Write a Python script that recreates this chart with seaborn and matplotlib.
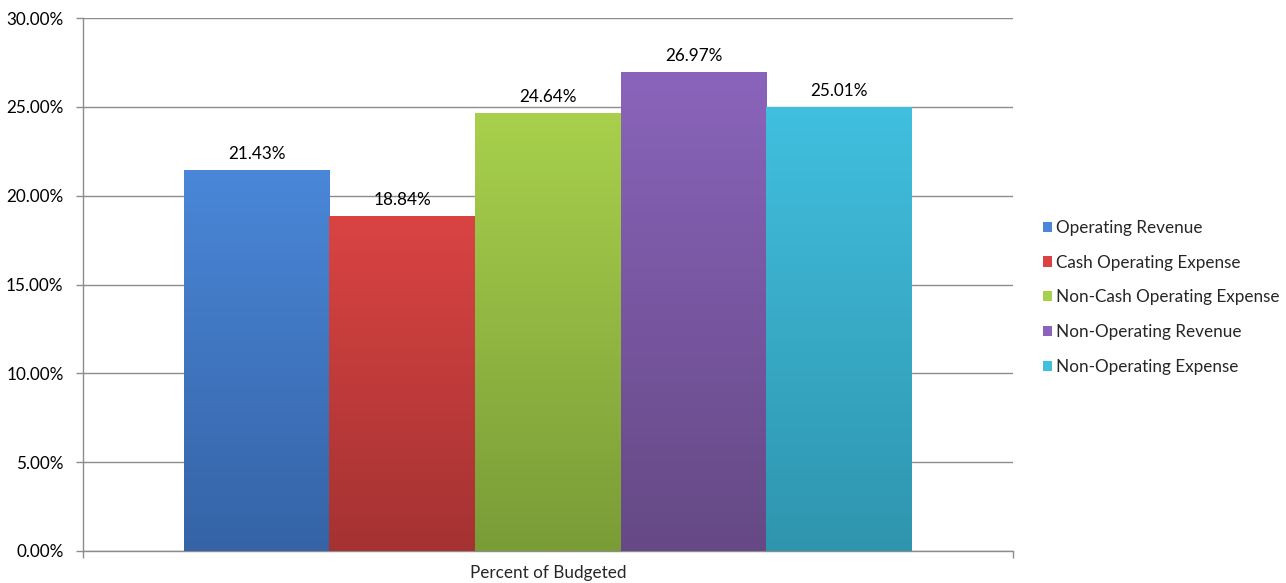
import numpy as np
import pandas as pd
import matplotlib
matplotlib.use("Agg")
import matplotlib.pyplot as plt
import seaborn as sns
from matplotlib.colors import LinearSegmentedColormap
from matplotlib.ticker import FuncFormatter

categories = ["Operating Revenue", "Cash Operating Expense", "Non-Cash Operating Expense",
              "Non-Operating Revenue", "Non-Operating Expense"]
values = [21.43, 18.84, 24.64, 26.97, 25.01]
group = "Percent of Budgeted"
top_colors = ["#4a87d8", "#d94443", "#a8d04c", "#8a64bb", "#41bfdf"]
bottom_colors = ["#3563a6", "#a53232", "#7a9c37", "#654985", "#2f95ae"]

FS = 12.3

sns.set_theme(style="white")
plt.rcParams['font.family'] = ['Lato', 'DejaVu Sans']

df = pd.DataFrame({"group": [group] * len(values), "cat": categories, "val": values})

fig = plt.figure(figsize=(12.86, 5.83), dpi=100)
ax = fig.add_axes([0.0645, 0.0549, 0.7232, 0.9141])

sns.barplot(data=df, x="group", y="val", hue="cat", hue_order=categories,
            palette=top_colors, width=0.783, gap=0, ax=ax, legend=True,
            linewidth=0, saturation=1, zorder=3)

ax.set_ylim(0, 30)
ax.set_xlim(-0.5, 0.5)
ax.set_yticks(np.arange(0, 30.01, 5))
ax.yaxis.set_major_formatter(FuncFormatter(lambda v, p: f"{v:.2f}%"))
ax.grid(axis="y", color="#8c8c8c", linewidth=1, zorder=0)
ax.set_axisbelow(True)

for s in ["top", "right"]:
    ax.spines[s].set_visible(False)
for s in ["left", "bottom"]:
    ax.spines[s].set_color("#8c8c8c")
    ax.spines[s].set_linewidth(1)

ax.tick_params(axis="y", which="major", direction="out", length=5, color="#8c8c8c",
               width=1, left=True, labelsize=FS, labelcolor="black", pad=9)
ax.set_xticks([0])
ax.set_xticklabels([group])
ax.set_xticks([-0.5, 0.5], minor=True)
ax.tick_params(axis="x", which="major", length=0, labelsize=FS, pad=10)
ax.tick_params(axis="x", which="minor", direction="out", length=5, color="#8c8c8c", width=1, bottom=True)
ax.set_xlabel("")
ax.set_ylabel("")

# gradient fill clipped to bars
patches = []
for cont in ax.containers:
    patches.extend(cont.patches)
for i, p in enumerate(patches):
    x0, y0 = p.get_x(), p.get_y()
    w, h = p.get_width(), p.get_height()
    cmap = LinearSegmentedColormap.from_list(f"g{i}", [bottom_colors[i], top_colors[i]])
    grad = np.linspace(0, 1, 256).reshape(-1, 1)
    im = ax.imshow(grad, cmap=cmap, origin="lower", aspect="auto",
                   extent=[x0, x0 + w, y0, y0 + h], zorder=3.5)
    im.set_clip_path(p)
    ax.text(x0 + w / 2, y0 + h + 0.45, f"{values[i]:.2f}%", ha="center", va="bottom",
            fontsize=FS, color="black", zorder=5)
ax.set_xlim(-0.5, 0.5)
ax.set_ylim(0, 30)

handles, labels = ax.get_legend_handles_labels()
if ax.get_legend() is not None:
    ax.get_legend().remove()
fig.legend(handles, labels, loc="center left", bbox_to_anchor=(0.8055, 0.49),
           frameon=False, fontsize=FS, handlelength=0.55, handleheight=0.55,
           handletextpad=0.25, labelspacing=1.1, borderaxespad=0)

fig.savefig("out.png", dpi=100, facecolor="white")
